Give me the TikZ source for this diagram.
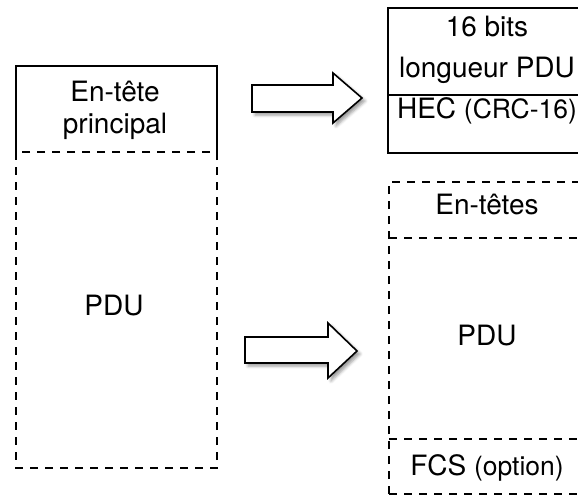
\documentclass[tikz,border=0pt]{standalone}
\usepackage{fontspec}
\setmainfont{TeX Gyre Heros}
\usetikzlibrary{shadows.blur}
\begin{document}
\begin{tikzpicture}[x=1pt,y=-1pt,
  lbl/.style={anchor=base, inner sep=0pt, font=\fontsize{28}{33}\selectfont},
  solidline/.style={line width=1.6pt, draw=black},
  dashline/.style={line width=1.6pt, draw=black, dash pattern=on 8pt off 7pt},
  blockarrow/.style={draw=black, line width=1.6pt, fill=white, line join=miter,
    blur shadow={shadow xshift=3pt, shadow yshift=-3pt, shadow blur radius=3pt, shadow opacity=40}},
]
\useasboundingbox (0,0) rectangle (578,496);
\begin{scope}
\clip (0,0) rectangle (578,496);
% left column
\draw[solidline] (16,152) -- (16,66) -- (217,66) -- (217,152);
\draw[dashline] (16,152) rectangle (217,468);
\node[lbl] (hdr1) at (115,101) {En-tête};
\node[lbl] (hdr2) at (115,133) {principal};
\node[lbl] (pduL) at (114,315) {PDU};
% right column, top box
\draw[solidline] (388,8) rectangle (592,153);
\draw[solidline] (388,95) -- (592,95);
\node[lbl] (bits1) at (487,36) {16 bits};
\node[lbl] (bits2) at (487,77) {longueur PDU};
\node[lbl] (hec) at (487,118) {HEC {\fontsize{26.5}{31}\selectfont (CRC-16)}};
% right column, dashed boxes
\draw[dashline] (389,494) -- (389,182) -- (592,182);
\draw[dashline] (389,238) -- (592,238);
\draw[dashline] (389,439) -- (592,439);
\draw[dashline] (389,494) -- (592,494);
\node[lbl] (entetes) at (487,214) {En-têtes};
\node[lbl] (pduR) at (487,345) {PDU};
\node[lbl] (fcs) at (487,475) {FCS {\fontsize{26.5}{31}\selectfont (option)}};
% block arrows
\draw[blockarrow] (252,85) -- (333,85) -- (333,73) -- (362,98) -- (333,123) -- (333,112) -- (252,112) -- cycle;
\draw[blockarrow] (245,337) -- (328,337) -- (328,323) -- (357,351) -- (328,378) -- (328,363) -- (245,363) -- cycle;
\end{scope}
\end{tikzpicture}
\end{document}
